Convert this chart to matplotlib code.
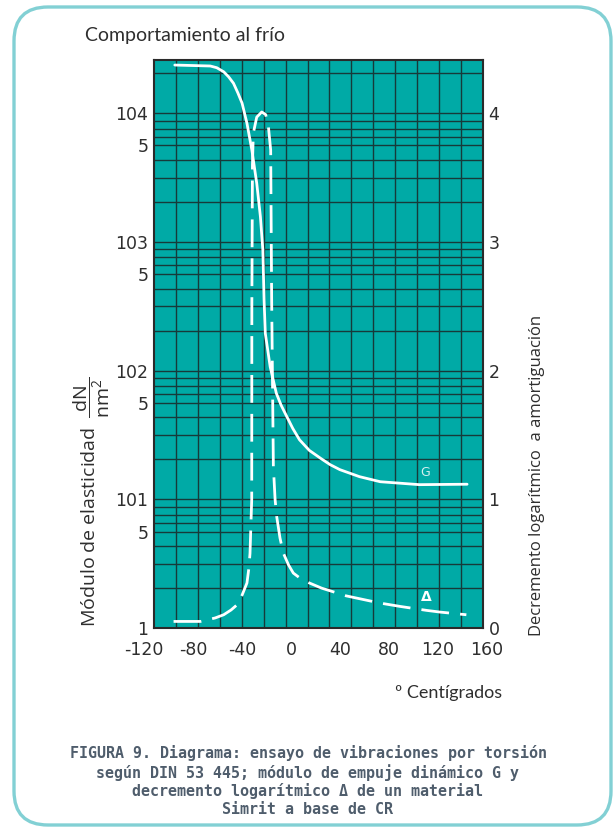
import numpy as np
import matplotlib
matplotlib.use("Agg")
import matplotlib.pyplot as plt
from matplotlib.patches import FancyBboxPatch

plt.rcParams['mathtext.fontset'] = 'custom'
plt.rcParams['mathtext.rm'] = 'Open Sans'
plt.rcParams['mathtext.it'] = 'Open Sans:italic'

# ---------------- data ----------------
g_temp = [-95, -66, -60.7, -55, -51, -47, -43.5, -40, -36, -32, -28, -25, -23,
          -22, -21, -17, -12, -8, -3.5, 1.5, 7, 15, 24, 32, 40, 56, 73, 105, 144]
g_modulus = [23700, 23300, 22600, 21000, 19200, 17100, 14450, 12000, 8360, 5190,
             2860, 1570, 867, 355, 195, 107, 66.8, 53.7, 44.1, 35.5, 29.0, 24.0,
             20.9, 18.6, 17.0, 15.0, 13.7, 13.0, 13.1]

d_temp = [-96, -74, -62, -55, -49, -44, -40, -36, -34.5, -33.5, -32.1, -32.0,
          -31.5, -30.8, -28, -23.9, -20.7, -18.5, -16.6, -15.8, -14.4, -13,
          -11.7, -9, -6.3, -2, 1.9, 7.3, 15, 25, 45, 72.7, 89, 110.8, 121.6, 143.4]
d_decrement = [0.051, 0.051, 0.078, 0.103, 0.14, 0.181, 0.255, 0.35, 0.46, 0.58,
               1.0, 2.5, 3.6, 3.845, 3.97, 4.01, 3.99, 3.9, 3.715, 2.55, 1.255,
               1.0, 0.867, 0.70, 0.583, 0.49, 0.427, 0.388, 0.35, 0.31, 0.25,
               0.194, 0.168, 0.137, 0.124, 0.103]

x_tick_values = [-120, -80, -40, 0, 40, 80, 120, 160]
left_tick_values = [1, 5.62, 10, 56.2, 100, 562, 1000, 5620, 10000]
left_tick_labels = ['1', '5', '101', '5', '102', '5', '103', '5', '104']
right_tick_values = [0, 1, 2, 3, 4]
grid_multipliers = [2.05, 3.16, 4.34, 5.62, 6.59, 7.60, 8.77]

title = "Comportamiento al frío"
xlabel = "º Centígrados"
ylabel_left = r"Módulo de elasticidad  $\dfrac{\mathrm{dN}}{\mathrm{nm}^2}$"
ylabel_right = "Decremento logarítmico  a amortiguación"
caption = ("FIGURA 9. Diagrama: ensayo de vibraciones por torsión\n"
           "según DIN 53 445; módulo de empuje dinámico G y\n"
           "decremento logarítmico \u0394 de un material\n"
           "Simrit a base de CR")

# ---------------- style ----------------
W, H = 616, 832
TEAL = '#00aaa6'
GRID = '#173a3a'
TXT = '#2e2e2e'
XMIN, XMAX = -112, 157
LTOP = 4.414

fig = plt.figure(figsize=(W / 100, H / 100), dpi=100)
fig.patch.set_facecolor('white')

# overlay in pixel coordinates
ov = fig.add_axes([0, 0, 1, 1], zorder=0)
ov.set_xlim(0, W)
ov.set_ylim(H, 0)
ov.axis('off')
ov.add_patch(FancyBboxPatch((14, 7), 597, 818,
                            boxstyle="round,pad=0,rounding_size=34",
                            fc='none', ec='#82d0d4', lw=2.4))

left, right, top, bottom = 154, 483, 60, 628
ax = fig.add_axes([left / W, 1 - bottom / H, (right - left) / W, (bottom - top) / H], zorder=2)
ax.set_facecolor(TEAL)
ax.set_yscale('log')
ax.set_xlim(XMIN, XMAX)
ax.set_ylim(1, 10 ** LTOP)

# grid
for xv in np.linspace(XMIN, XMAX, 16)[1:-1]:
    ax.axvline(xv, color=GRID, lw=1.0, zorder=1)
for d in range(0, 5):
    ax.axhline(10 ** d, color=GRID, lw=1.0, zorder=1)
    for m in grid_multipliers:
        v = m * 10 ** d
        if v < 10 ** LTOP:
            ax.axhline(v, color=GRID, lw=1.0, zorder=1)

ax.plot(g_temp, g_modulus, color='white', lw=2.0, zorder=3,
        solid_capstyle='round', solid_joinstyle='round')

ax.set_yticks(left_tick_values)
ax.set_yticklabels(left_tick_labels)
ax.yaxis.set_minor_locator(matplotlib.ticker.NullLocator())
ax.tick_params(axis='y', length=0, pad=4, labelsize=12.5, labelcolor=TXT)
ax.set_xticks([])
for s in ax.spines.values():
    s.set_color('#2a2a2a')
    s.set_linewidth(1.5)
    s.set_zorder(5)

ax2 = ax.twinx()
ax2.set_ylim(0, LTOP)
ax2.plot(d_temp, d_decrement, color='white', lw=2.0, zorder=3,
         linestyle=(0, (10, 4)), dash_joinstyle='round')
ax2.set_yticks(right_tick_values)
ax2.set_yticklabels([str(v) for v in right_tick_values])
ax2.tick_params(axis='y', length=0, pad=4, labelsize=12.5, labelcolor=TXT)
for s in ax2.spines.values():
    s.set_visible(False)

ax.text(110, 16.1, 'G', color='#d4f0f0', fontsize=9, ha='center', va='center',
        family='DejaVu Sans', zorder=4)
ax2.text(111, 0.243, '\u0394', color='white', fontsize=10, ha='center', va='center',
         fontweight='bold', zorder=4)

# x tick labels
xt = ax.get_xaxis_transform()
for v in x_tick_values:
    ax.text(v, -22 / (bottom - top), str(v), transform=xt, ha='center', va='center',
            fontsize=12.5, color=TXT, clip_on=False)

# texts
ov.text(85, 36, title, fontsize=14, family='Lato', color=TXT, ha='left', va='center')
ov.text(395, 693, xlabel, fontsize=13, family='Lato', color=TXT, ha='left', va='center')
ov.text(92, 502, ylabel_left, fontsize=14, family='Open Sans', color=TXT,
        rotation=90, ha='center', va='center')
ov.text(537, 475, ylabel_right, fontsize=12, family='Open Sans', color=TXT,
        rotation=90, ha='center', va='center')
ov.text(308, 781, caption, fontsize=10.8, family='DejaVu Sans Mono', fontweight='bold',
        color='#4f5d6c', ha='center', va='center', linespacing=1.2)

fig.savefig('out.png', dpi=100, facecolor='white')
